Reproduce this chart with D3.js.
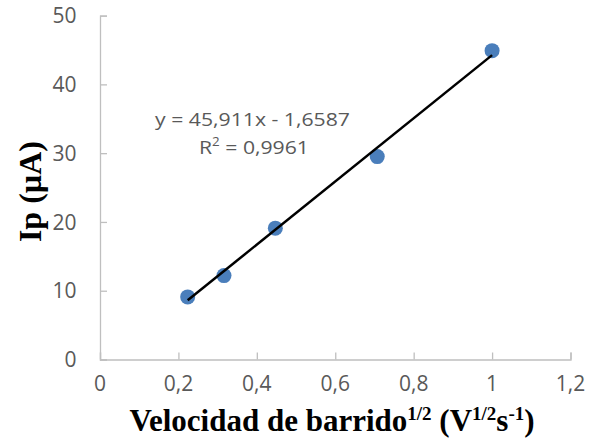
<!DOCTYPE html>
<html>
<head>
<meta charset="utf-8">
<script src="https://cdn.jsdelivr.net/npm/d3@7"></script>
<style>
  html, body { margin: 0; padding: 0; background: #fff; }
  svg { display: block; }
</style>
</head>
<body>
<svg id="chart" width="597" height="440"></svg>
<script>
// Peak current vs square root of scan rate
const scanRateSqrt = [0.2236, 0.3162, 0.4472, 0.7071, 1.0];
const peakCurrent  = [9.1, 12.2, 19.1, 29.5, 44.9];

// Linear fit shown on the chart
const slope = 45.911;
const intercept = -1.6587;
const rSquared = "0,9961";

const xTicks = [0, 0.2, 0.4, 0.6, 0.8, 1, 1.2];
const yTicks = [0, 10, 20, 30, 40, 50];

const svg = d3.select("#chart");
const W = 597, H = 440;
const margin = { left: 100, right: 26.5, top: 15.6, bottom: 80.5 };

const x = d3.scaleLinear().domain([0, 1.2]).range([margin.left, W - margin.right]);
const y = d3.scaleLinear().domain([0, 50]).range([H - margin.bottom, margin.top]);

const fmt = d => String(d).replace(".", ",");
const axisColor = "#bfbfbf";
const labelColor = "#595959";
const tickFont = "'Open Sans', sans-serif";

// Axes with inward ticks
const yAxis = svg.append("g")
  .attr("transform", `translate(${margin.left},0)`)
  .call(d3.axisRight(y).tickValues(yTicks).tickSize(7).tickFormat(""));
const xAxis = svg.append("g")
  .attr("transform", `translate(0,${H - margin.bottom})`)
  .call(d3.axisTop(x).tickValues(xTicks).tickSize(7).tickFormat(""));

[yAxis, xAxis].forEach(g => {
  g.select(".domain").attr("stroke", axisColor).attr("stroke-width", 1.3);
  g.selectAll(".tick line").attr("stroke", axisColor).attr("stroke-width", 1.3);
});

// Tick labels
svg.append("g").selectAll("text")
  .data(yTicks).join("text")
  .attr("x", margin.left - 23.5)
  .attr("y", d => y(d))
  .attr("dy", "0.36em")
  .attr("text-anchor", "end")
  .attr("font-family", tickFont)
  .attr("font-size", 21)
  .attr("fill", labelColor)
  .text(fmt);

svg.append("g").selectAll("text")
  .data(xTicks).join("text")
  .attr("x", d => x(d))
  .attr("y", 391)
  .attr("text-anchor", "middle")
  .attr("font-family", tickFont)
  .attr("font-size", 21)
  .attr("fill", labelColor)
  .text(fmt);

// Trend line over the measured range
const x0 = d3.min(scanRateSqrt), x1 = d3.max(scanRateSqrt);

// Data points
svg.append("g").selectAll("circle")
  .data(scanRateSqrt.map((v, i) => [v, peakCurrent[i]]))
  .join("circle")
  .attr("cx", d => x(d[0]))
  .attr("cy", d => y(d[1]))
  .attr("r", 7.5)
  .attr("fill", "#4a7ebb");

svg.append("line")
  .attr("x1", x(x0)).attr("y1", y(slope * x0 + intercept))
  .attr("x2", x(x1)).attr("y2", y(slope * x1 + intercept))
  .attr("stroke", "#000").attr("stroke-width", 2.5);

// Equation label
const eq = svg.append("g").attr("font-family", tickFont).attr("font-size", 19).attr("fill", labelColor);
eq.append("text").attr("x", 155).attr("y", 125.5)
  .attr("textLength", 195).attr("lengthAdjust", "spacingAndGlyphs")
  .text(`y = ${fmt(slope)}x - ${fmt(-intercept)}`);
const r2 = eq.append("text").attr("x", 199).attr("y", 153.5)
  .attr("textLength", 110).attr("lengthAdjust", "spacingAndGlyphs");
r2.append("tspan").text("R");
r2.append("tspan").attr("font-size", 12).attr("dy", -8).text("2");
r2.append("tspan").attr("dy", 8).text(` = ${rSquared}`);

// Axis titles
const serif = "'Liberation Serif', 'Times New Roman', serif";
const xt = svg.append("text")
  .attr("x", 332).attr("y", 431)
  .attr("text-anchor", "middle")
  .attr("font-family", serif).attr("font-weight", "bold")
  .attr("font-size", 31).attr("fill", "#000");
xt.append("tspan").text("Velocidad de barrido");
xt.append("tspan").attr("font-size", 19).attr("dy", -11).text("1/2");
xt.append("tspan").attr("dy", 11).text(" (V");
xt.append("tspan").attr("font-size", 19).attr("dy", -11).text("1/2");
xt.append("tspan").attr("dy", 11).text("s");
xt.append("tspan").attr("font-size", 19).attr("dy", -11).text("-1");
xt.append("tspan").attr("dy", 11).text(")");

svg.append("text")
  .attr("transform", `translate(41,${y(25) + 4}) rotate(-90)`)
  .attr("text-anchor", "middle")
  .attr("font-family", serif).attr("font-weight", "bold")
  .attr("font-size", 32).attr("fill", "#000")
  .text("Ip (µA)");
</script>
</body>
</html>
